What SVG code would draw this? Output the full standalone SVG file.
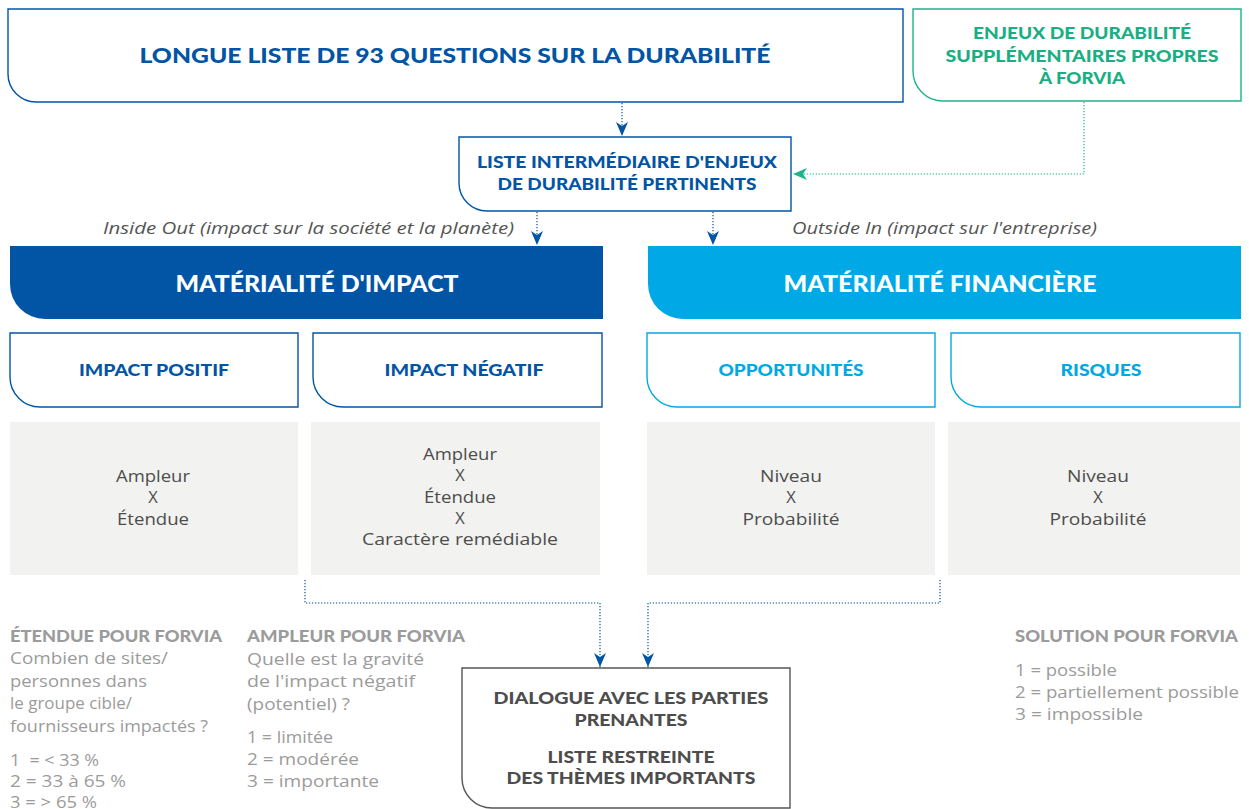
<svg xmlns="http://www.w3.org/2000/svg" width="1249" height="809" viewBox="0 0 1249 809">
<defs>
<style>
text{font-family:"Open Sans","Noto Sans","Liberation Sans",sans-serif;font-weight:400}
.b{font-family:Lato,"Noto Sans","Liberation Sans",sans-serif;font-weight:900}
.blue{fill:#0255a5}
.cyan{fill:#00a9e5}
.green{fill:#1aae83}
.dark{fill:#4d4d4d}
.gray{fill:#9b9b9b}
.w{fill:#ffffff}
.ob{fill:#fff;stroke:#0255a5;stroke-width:1.4}
.oc{fill:#fff;stroke:#00a9e5;stroke-width:1.4}
.og{fill:#fff;stroke:#1db38b;stroke-width:1.4}
.od{fill:#fff;stroke:#555;stroke-width:1.4}
.gb{fill:#f2f2f0}
.dot{fill:none;stroke:#0255a5;stroke-width:1.2;stroke-dasharray:1.3 1.7}
.dotg{fill:none;stroke:#1db38b;stroke-width:1.2;stroke-dasharray:1.3 1.7}
.c{text-anchor:middle}
.it{font-style:italic;fill:#555}
</style>
<marker id="ab" viewBox="0 0 14 12" refX="14" refY="6" markerWidth="14" markerHeight="12" orient="auto" markerUnits="userSpaceOnUse">
<path d="M0,0 L14,6 L0,12 L4,6 Z" fill="#0255a5"/>
</marker>
<marker id="ag" viewBox="0 0 14 12" refX="14" refY="6" markerWidth="14" markerHeight="12" orient="auto" markerUnits="userSpaceOnUse">
<path d="M0,0 L14,6 L0,12 L4,6 Z" fill="#1db38b"/>
</marker>
</defs>

<g id="longue-liste">
<path class="ob" d="M8,9 H903 V102 H36 A28 28 0 0 1 8 74 Z"/>
<text class="b blue c" x="455" y="63" font-size="21" textLength="631" lengthAdjust="spacingAndGlyphs">LONGUE LISTE DE 93 QUESTIONS SUR LA DURABILITÉ</text>
</g>

<g id="enjeux-forvia">
<path class="og" d="M913,9 H1241 V101 H943 A30 30 0 0 1 913 71 Z"/>
<text class="b green c" x="1082" y="39" font-size="16.5" textLength="218" lengthAdjust="spacingAndGlyphs">ENJEUX DE DURABILITÉ</text>
<text class="b green c" x="1082" y="62" font-size="16.5" textLength="273" lengthAdjust="spacingAndGlyphs">SUPPLÉMENTAIRES PROPRES</text>
<text class="b green c" x="1082" y="84" font-size="16.5" textLength="86" lengthAdjust="spacingAndGlyphs">À FORVIA</text>
</g>

<g id="liste-intermediaire">
<path class="ob" d="M459,137 H791 V211 H487 A28 28 0 0 1 459 183 Z"/>
<text class="b blue c" x="627" y="168" font-size="16" textLength="300" lengthAdjust="spacingAndGlyphs">LISTE INTERMÉDIAIRE D'ENJEUX</text>
<text class="b blue c" x="627" y="190" font-size="16" textLength="259" lengthAdjust="spacingAndGlyphs">DE DURABILITÉ PERTINENTS</text>
</g>

<g id="labels">
<text class="it" x="103" y="234" font-size="16" textLength="411" lengthAdjust="spacingAndGlyphs">Inside Out (impact sur la société et la planète)</text>
<text class="it" x="792" y="234" font-size="16" textLength="305" lengthAdjust="spacingAndGlyphs">Outside In (impact sur l'entreprise)</text>
</g>

<g id="materialite-impact">
<path class="blue" d="M10,246 H603 V319 H45 A35 35 0 0 1 10 284 Z"/>
<text class="b w c" x="317" y="292" font-size="22" textLength="283" lengthAdjust="spacingAndGlyphs">MATÉRIALITÉ D'IMPACT</text>
</g>

<g id="materialite-financiere">
<path class="cyan" d="M648,246 H1241 V319 H683 A35 35 0 0 1 648 284 Z"/>
<text class="b w c" x="940" y="292" font-size="22" textLength="313" lengthAdjust="spacingAndGlyphs">MATÉRIALITÉ FINANCIÈRE</text>
</g>

<g id="impact-positif">
<path class="ob" d="M10,333 H298 V407 H40 A30 30 0 0 1 10 377 Z"/>
<text class="b blue c" x="154" y="376" font-size="16" textLength="150" lengthAdjust="spacingAndGlyphs">IMPACT POSITIF</text>
</g>
<g id="impact-negatif">
<path class="ob" d="M313,333 H602 V407 H343 A30 30 0 0 1 313 377 Z"/>
<text class="b blue c" x="464" y="376" font-size="16" textLength="159" lengthAdjust="spacingAndGlyphs">IMPACT NÉGATIF</text>
</g>
<g id="opportunites">
<path class="oc" d="M647,333 H935 V407 H677 A30 30 0 0 1 647 377 Z"/>
<text class="b cyan c" x="791" y="376" font-size="16" textLength="145" lengthAdjust="spacingAndGlyphs">OPPORTUNITÉS</text>
</g>
<g id="risques">
<path class="oc" d="M951,333 H1240 V407 H981 A30 30 0 0 1 951 377 Z"/>
<text class="b cyan c" x="1101" y="376" font-size="16" textLength="81" lengthAdjust="spacingAndGlyphs">RISQUES</text>
</g>

<g id="calc-positif">
<rect class="gb" x="10" y="422" width="288" height="153"/>
<text class="dark c" font-size="16.5" x="153" y="482" textLength="74" lengthAdjust="spacingAndGlyphs">Ampleur</text>
<text class="dark c" font-size="16.5" x="153" y="503">X</text>
<text class="dark c" font-size="16.5" x="153" y="525" textLength="72" lengthAdjust="spacingAndGlyphs">Étendue</text>
</g>
<g id="calc-negatif">
<rect class="gb" x="311" y="422" width="289" height="153"/>
<text class="dark c" font-size="16.5" x="460" y="460" textLength="74" lengthAdjust="spacingAndGlyphs">Ampleur</text>
<text class="dark c" font-size="16.5" x="460" y="481">X</text>
<text class="dark c" font-size="16.5" x="460" y="503" textLength="72" lengthAdjust="spacingAndGlyphs">Étendue</text>
<text class="dark c" font-size="16.5" x="460" y="524">X</text>
<text class="dark c" font-size="16.5" x="460" y="545" textLength="196" lengthAdjust="spacingAndGlyphs">Caractère remédiable</text>
</g>
<g id="calc-opportunites">
<rect class="gb" x="647" y="422" width="288" height="153"/>
<text class="dark c" font-size="16.5" x="791" y="482" textLength="62" lengthAdjust="spacingAndGlyphs">Niveau</text>
<text class="dark c" font-size="16.5" x="791" y="503">X</text>
<text class="dark c" font-size="16.5" x="791" y="525" textLength="97" lengthAdjust="spacingAndGlyphs">Probabilité</text>
</g>
<g id="calc-risques">
<rect class="gb" x="948" y="422" width="292" height="153"/>
<text class="dark c" font-size="16.5" x="1098" y="482" textLength="62" lengthAdjust="spacingAndGlyphs">Niveau</text>
<text class="dark c" font-size="16.5" x="1098" y="503">X</text>
<text class="dark c" font-size="16.5" x="1098" y="525" textLength="97" lengthAdjust="spacingAndGlyphs">Probabilité</text>
</g>

<g id="dialogue">
<path class="od" d="M462,668 H790 V808 H492 A30 30 0 0 1 462 778 Z"/>
<text class="b dark c" x="631" y="704" font-size="16" textLength="275" lengthAdjust="spacingAndGlyphs">DIALOGUE AVEC LES PARTIES</text>
<text class="b dark c" x="631" y="726" font-size="16" textLength="113" lengthAdjust="spacingAndGlyphs">PRENANTES</text>
<text class="b dark c" x="631" y="763" font-size="16" textLength="167" lengthAdjust="spacingAndGlyphs">LISTE RESTREINTE</text>
<text class="b dark c" x="631" y="784" font-size="16" textLength="249" lengthAdjust="spacingAndGlyphs">DES THÈMES IMPORTANTS</text>
</g>

<g id="etendue-forvia">
<text class="b gray" x="10" y="642" font-size="16" textLength="212" lengthAdjust="spacingAndGlyphs">ÉTENDUE POUR FORVIA</text>
<text class="gray" x="10" y="664" font-size="16.5" textLength="158" lengthAdjust="spacingAndGlyphs">Combien de sites/</text>
<text class="gray" x="10" y="687" font-size="16.5" textLength="137" lengthAdjust="spacingAndGlyphs">personnes dans</text>
<text class="gray" x="10" y="709" font-size="16.5" textLength="122" lengthAdjust="spacingAndGlyphs">le groupe cible/</text>
<text class="gray" x="10" y="732" font-size="16.5" textLength="198" lengthAdjust="spacingAndGlyphs">fournisseurs impactés ?</text>
<text class="gray" x="10" y="766" font-size="16.5" textLength="89" lengthAdjust="spacingAndGlyphs" xml:space="preserve">1  = &lt; 33 %</text>
<text class="gray" x="10" y="787" font-size="16.5" textLength="116" lengthAdjust="spacingAndGlyphs">2 = 33 à 65 %</text>
<text class="gray" x="10" y="808" font-size="16.5" textLength="87" lengthAdjust="spacingAndGlyphs">3 = &gt; 65 %</text>
</g>

<g id="ampleur-forvia">
<text class="b gray" x="247" y="642" font-size="16" textLength="218" lengthAdjust="spacingAndGlyphs">AMPLEUR POUR FORVIA</text>
<text class="gray" x="247" y="665" font-size="16.5" textLength="177" lengthAdjust="spacingAndGlyphs">Quelle est la gravité</text>
<text class="gray" x="247" y="687" font-size="16.5" textLength="168" lengthAdjust="spacingAndGlyphs">de l'impact négatif</text>
<text class="gray" x="247" y="710" font-size="16.5" textLength="103" lengthAdjust="spacingAndGlyphs">(potentiel) ?</text>
<text class="gray" x="247" y="743" font-size="16.5" textLength="86" lengthAdjust="spacingAndGlyphs">1 = limitée</text>
<text class="gray" x="247" y="765" font-size="16.5" textLength="112" lengthAdjust="spacingAndGlyphs">2 = modérée</text>
<text class="gray" x="247" y="787" font-size="16.5" textLength="132" lengthAdjust="spacingAndGlyphs">3 = importante</text>
</g>

<g id="solution-forvia">
<text class="b gray" x="1015" y="642" font-size="16" textLength="223" lengthAdjust="spacingAndGlyphs">SOLUTION POUR FORVIA</text>
<text class="gray" x="1015" y="676" font-size="16.5" textLength="102" lengthAdjust="spacingAndGlyphs">1 = possible</text>
<text class="gray" x="1015" y="698" font-size="16.5" textLength="224" lengthAdjust="spacingAndGlyphs">2 = partiellement possible</text>
<text class="gray" x="1015" y="720" font-size="16.5" textLength="128" lengthAdjust="spacingAndGlyphs">3 = impossible</text>
</g>

<g id="connectors">
<path class="dot" d="M622,103 V136" marker-end="url(#ab)"/>
<path class="dotg" d="M1084,102 V174 H793" marker-end="url(#ag)"/>
<path class="dot" d="M537,212 V245" marker-end="url(#ab)"/>
<path class="dot" d="M713,212 V245" marker-end="url(#ab)"/>
<path class="dot" d="M305,580 V603 H600 V667" marker-end="url(#ab)"/>
<path class="dot" d="M940,580 V603 H648 V667" marker-end="url(#ab)"/>
</g>
</svg>
